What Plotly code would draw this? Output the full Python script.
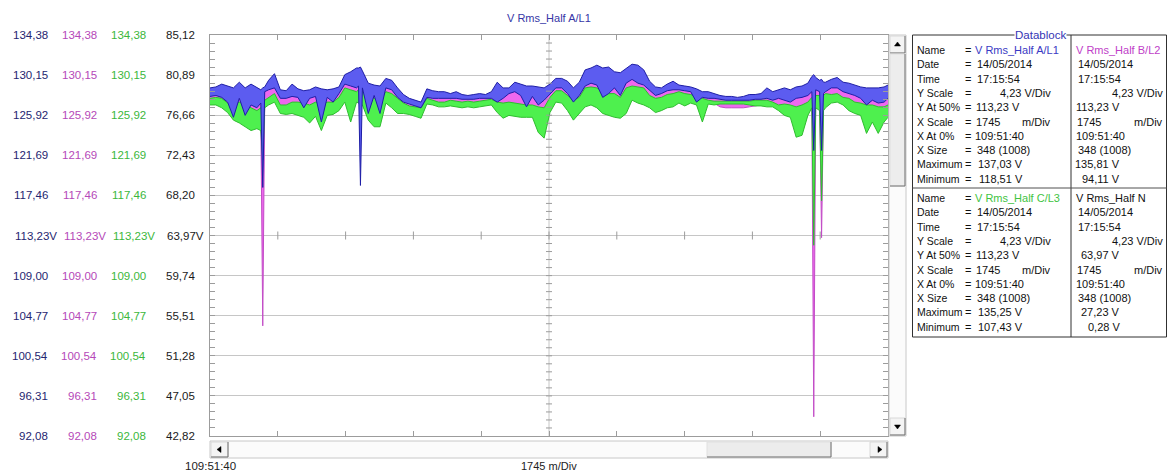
import plotly.graph_objects as go

# ---- record: sample numbers (348 samples on screen) and min/max envelopes (V) ----
sample = [0, 3, 6, 9, 12, 15, 18, 21, 24, 26, 27, 28, 30, 33, 36, 39, 42, 45, 48, 51,
          54, 57, 60, 63, 66, 69, 72, 75, 76, 77, 78, 81, 84, 87, 90, 93, 96, 99, 102, 105,
          108, 111, 114, 117, 120, 123, 126, 129, 132, 135, 138, 141, 144, 147, 150, 153, 156, 159, 162, 165,
          168, 171, 174, 177, 180, 183, 186, 189, 192, 195, 198, 201, 204, 207, 210, 213, 216, 219, 222, 225,
          228, 231, 234, 237, 240, 243, 246, 249, 252, 255, 258, 261, 264, 267, 270, 273, 276, 279, 282, 285,
          288, 291, 294, 297, 300, 303, 306, 308, 309, 310, 312, 313, 314, 315, 318, 321, 324, 327, 330, 333,
          336, 339, 342, 345, 347]

a_max = [128.8, 128.9, 129.2, 129.0, 128.8, 129.4, 128.8, 129.2, 128.8, 128.6, 128.8, 128.9, 129.6, 130.3, 128.6, 128.5, 129.2, 128.7, 128.5, 128.6,
         128.9, 128.7, 128.6, 128.7, 128.9, 130.2, 130.5, 130.9, 130.9, 131.0, 130.6, 129.3, 129.1, 129.0, 129.8, 129.6, 128.8, 128.1, 127.7, 127.5,
         127.3, 128.7, 128.5, 128.4, 128.4, 128.2, 128.4, 128.1, 128.0, 128.1, 128.2, 128.1, 128.4, 129.4, 128.8, 128.8, 129.4, 129.2, 129.0, 129.0,
         128.9, 128.8, 129.2, 129.8, 129.8, 129.5, 128.8, 129.4, 130.7, 130.9, 131.2, 130.9, 131.0, 130.5, 130.4, 130.9, 131.3, 131.2, 130.7, 129.5,
         128.9, 128.8, 129.2, 129.5, 129.1, 129.0, 128.9, 128.7, 128.4, 128.4, 128.2, 128.0, 127.9, 127.9, 127.8, 127.9, 128.1, 128.1, 128.2, 128.8,
         128.4, 128.6, 128.8, 128.6, 128.9, 129.0, 129.3, 130.0, 130.2, 129.9, 129.6, 129.7, 129.4, 129.4, 129.7, 129.9, 129.4, 129.3, 129.1, 128.9,
         128.8, 128.8, 128.8, 128.9, 129.1]
a_min = [127.9, 128.0, 127.8, 127.3, 125.7, 127.7, 125.9, 127.0, 126.7, 127.2, 118.3, 128.4, 128.6, 128.8, 127.7, 127.7, 127.9, 127.8, 126.7, 127.7,
         127.9, 125.2, 127.8, 127.3, 128.2, 129.2, 129.0, 128.8, 129.0, 118.51, 128.8, 126.1, 128.0, 126.1, 128.8, 128.6, 127.8, 127.3, 127.1, 126.9,
         126.7, 127.8, 127.7, 127.7, 127.7, 127.7, 127.7, 127.6, 127.6, 127.6, 127.7, 127.7, 127.7, 127.3, 127.7, 128.2, 128.4, 128.0, 126.8, 127.9,
         127.0, 127.5, 128.1, 128.8, 128.8, 128.2, 127.3, 128.0, 129.0, 129.3, 129.1, 127.8, 128.2, 128.8, 128.0, 129.3, 129.7, 129.3, 129.1, 128.5,
         128.0, 128.2, 128.5, 128.6, 128.6, 128.5, 128.4, 127.3, 127.8, 127.7, 127.7, 127.6, 127.5, 127.5, 127.5, 127.5, 127.5, 127.6, 127.6, 127.7,
         127.5, 127.7, 127.5, 127.3, 127.7, 127.8, 128.0, 128.4, 122.2, 128.6, 128.4, 122.2, 128.2, 128.4, 128.8, 128.8, 128.4, 128.2, 128.0, 127.7,
         127.0, 127.5, 127.2, 127.3, 127.7]

b_max = [128.2, 128.4, 128.1, 127.7, 127.6, 128.0, 127.5, 127.4, 127.2, 127.5, 127.5, 128.6, 128.9, 129.1, 128.0, 128.0, 128.2, 128.1, 128.0, 128.0,
         128.2, 128.0, 128.1, 128.0, 128.6, 129.5, 129.3, 129.4, 129.4, 129.4, 129.2, 128.8, 128.5, 128.4, 129.1, 128.9, 128.1, 127.6, 127.4, 127.2,
         127.0, 128.1, 128.0, 128.0, 128.0, 128.0, 128.0, 127.9, 127.9, 127.9, 128.0, 128.0, 128.0, 128.0, 128.0, 128.6, 128.8, 128.5, 128.2, 128.2,
         128.0, 127.9, 128.5, 129.1, 129.1, 128.6, 128.0, 128.4, 129.3, 129.6, 129.4, 129.0, 129.0, 129.1, 128.6, 129.6, 130.0, 129.6, 129.4, 128.8,
         128.4, 128.6, 128.8, 128.9, 128.9, 128.8, 128.7, 128.2, 128.1, 128.0, 128.0, 127.8, 127.8, 127.8, 127.7, 127.8, 127.8, 127.9, 127.9, 128.0,
         127.8, 128.0, 127.9, 127.8, 128.0, 128.1, 128.4, 128.8, 128.8, 128.9, 128.7, 128.7, 128.6, 128.7, 129.1, 129.1, 128.7, 128.6, 128.4, 128.0,
         127.9, 127.9, 127.8, 127.8, 128.0]
b_min = [127.4, 127.4, 127.2, 126.8, 126.2, 126.4, 126.0, 125.6, 125.6, 125.6, 103.7, 127.1, 127.4, 127.7, 126.6, 126.6, 126.8, 126.7, 126.4, 126.1,
         126.6, 125.8, 126.7, 126.7, 127.1, 128.0, 127.0, 127.8, 127.8, 127.5, 127.6, 126.8, 126.2, 126.1, 127.8, 127.5, 127.0, 126.7, 126.4, 126.3,
         126.1, 127.4, 127.3, 127.1, 127.1, 127.2, 127.1, 127.0, 127.1, 127.0, 127.1, 127.2, 127.3, 126.8, 126.4, 126.7, 126.6, 126.4, 126.3, 126.3,
         125.6, 125.4, 127.1, 127.9, 127.8, 127.3, 126.4, 127.0, 127.8, 127.9, 127.7, 127.3, 127.1, 127.0, 126.8, 127.5, 128.2, 128.0, 127.9, 127.4,
         127.0, 127.2, 127.4, 127.5, 127.8, 127.6, 127.7, 127.5, 126.7, 127.3, 127.2, 126.8, 126.7, 126.7, 126.7, 126.7, 126.8, 126.9, 127.0, 127.1,
         127.0, 126.7, 126.4, 126.3, 125.4, 125.6, 126.7, 127.2, 94.11, 127.3, 127.2, 113.0, 127.2, 127.5, 127.7, 127.8, 127.4, 127.1, 126.8, 126.6,
         125.6, 126.1, 125.6, 126.0, 126.4]

c_max = [127.7, 127.8, 127.7, 127.2, 127.0, 127.3, 127.0, 126.7, 126.4, 126.7, 126.4, 127.5, 127.8, 128.2, 127.0, 127.0, 127.3, 127.3, 127.2, 127.0,
         127.3, 127.0, 127.3, 127.3, 127.8, 128.8, 128.6, 128.4, 128.6, 128.4, 128.4, 128.0, 127.7, 127.5, 128.4, 128.2, 127.7, 127.2, 126.9, 126.8,
         126.7, 127.7, 127.5, 127.3, 127.3, 127.5, 127.4, 127.3, 127.4, 127.3, 127.4, 127.5, 127.6, 127.3, 127.2, 127.3, 127.2, 127.1, 127.0, 127.0,
         126.8, 126.7, 127.8, 128.5, 128.5, 128.0, 127.5, 127.8, 128.8, 128.9, 128.8, 128.4, 128.2, 128.2, 127.8, 128.8, 129.0, 128.9, 128.8, 128.0,
         127.7, 127.8, 128.1, 128.2, 128.4, 128.2, 128.1, 127.9, 127.7, 127.5, 127.4, 127.4, 127.4, 127.4, 127.4, 127.4, 127.4, 127.5, 127.5, 127.5,
         127.3, 127.0, 127.1, 127.0, 126.8, 127.0, 127.3, 127.8, 127.8, 128.0, 128.0, 128.0, 128.0, 128.2, 128.1, 128.2, 127.8, 127.7, 127.3, 127.2,
         127.0, 127.0, 126.8, 126.8, 127.0]
c_min = [127.0, 127.0, 126.7, 126.2, 125.4, 125.1, 124.7, 124.3, 124.5, 124.3, 121.2, 126.7, 127.0, 127.3, 126.1, 126.0, 126.1, 125.9, 125.7, 125.1,
         125.8, 124.3, 125.9, 126.0, 126.4, 127.3, 125.2, 127.3, 127.2, 127.0, 127.0, 125.4, 124.7, 124.7, 127.2, 126.7, 126.1, 126.1, 126.0, 125.8,
         125.6, 127.1, 127.0, 126.8, 126.8, 126.9, 126.8, 126.7, 126.8, 126.7, 126.8, 126.9, 127.0, 126.2, 125.6, 125.9, 125.8, 125.7, 125.7, 125.7,
         124.1, 123.5, 126.2, 127.3, 127.2, 126.4, 125.4, 126.1, 126.8, 127.0, 126.7, 126.1, 125.9, 125.7, 125.6, 126.1, 127.5, 127.2, 127.0, 126.7,
         126.2, 126.4, 126.7, 126.8, 127.2, 126.9, 127.2, 127.0, 125.2, 127.1, 127.0, 127.1, 127.1, 127.1, 127.1, 127.1, 127.0, 126.9, 126.9, 126.8,
         126.8, 126.4, 125.9, 125.7, 123.6, 123.8, 125.9, 126.7, 112.2, 126.7, 126.4, 116.9, 126.4, 126.7, 127.2, 127.3, 127.0, 126.4, 126.1, 125.9,
         124.0, 125.2, 124.0, 125.2, 125.7]

for arr in (a_max, a_min, b_max, b_min, c_max, c_min):
    assert len(arr) == len(sample)

# ---- scale settings ----
n_samples = 348
y_center = 113.23          # Y at 50 %
y_per_div = 4.23           # V/Div
n_div = 10
y_bottom = y_center - n_div / 2 * y_per_div
y_top = y_center + n_div / 2 * y_per_div
x_last = n_samples - 1
x_per_div = x_last / n_div

# tick label columns (A/L1, B/L2, C/L3, N)
labels_abc = ["134,38", "130,15", "125,92", "121,69", "117,46", "113,23V",
              "109,00", "104,77", "100,54", "96,31", "92,08"]
labels_n = ["85,12", "80,89", "76,66", "72,43", "68,20", "63,97V",
            "59,74", "55,51", "51,28", "47,05", "42,82"]

# ---- page geometry (pixels) ----
W, H = 1168, 474
PL, PR, PT, PB = 210, 888, 35, 436


def xp(px):
    return (px - PL) / (PR - PL)


def yp(py):
    return (PB - py) / (PB - PT)


FONT = "Liberation Sans, Arial, sans-serif"
GRID = "#c6c6c6"
FRAME = "#9c9c9c"

series = [
    # name, max, min, line colour, fill colour
    ("B/L2", b_max, b_min, "#c24cc6", "#ee68ee"),
    ("C/L3", c_max, c_min, "#2fbd2f", "#4ef04e"),
    ("A/L1", a_max, a_min, "#1e1ea6", "#5c5cf0"),
]

fig = go.Figure()
for name, hi, lo, lc, fc in series:
    fig.add_trace(go.Scatter(x=sample, y=lo, mode="lines", line=dict(color=lc, width=1),
                             hoverinfo="skip", showlegend=False))
    fig.add_trace(go.Scatter(x=sample, y=hi, mode="lines", line=dict(color=lc, width=1),
                             fill="tonexty", fillcolor=fc, name=name, showlegend=False))

shapes = []
# centre cross-hair with small ticks
x_mid = x_last / 2
shapes.append(dict(type="line", xref="x", yref="paper", x0=x_mid, x1=x_mid, y0=0, y1=1,
                   line=dict(color=GRID, width=1), layer="below"))
for k in range(1, n_div):
    xv = k * x_per_div
    shapes.append(dict(type="line", xref="x", yref="y", ysizemode="pixel", yanchor=y_center,
                       x0=xv, x1=xv, y0=-4, y1=4, line=dict(color=FRAME, width=1)))
for k in range(1, n_div * 5):
    yv = y_bottom + k * y_per_div / 5
    shapes.append(dict(type="line", xref="x", yref="y", xsizemode="pixel", xanchor=x_mid,
                       x0=-3, x1=3, y0=yv, y1=yv, line=dict(color=FRAME, width=1)))


def rect(x0, y0, x1, y1, fill, line="#b8b8b8"):
    shapes.append(dict(type="rect", xref="paper", yref="paper", x0=xp(x0), x1=xp(x1),
                       y0=yp(y1), y1=yp(y0), fillcolor=fill, line=dict(color=line, width=1)))


def hline(x0, x1, y, color, width=1):
    shapes.append(dict(type="line", xref="paper", yref="paper", x0=xp(x0), x1=xp(x1),
                       y0=yp(y), y1=yp(y), line=dict(color=color, width=width)))


def vline(x, y0, y1, color, width=1):
    shapes.append(dict(type="line", xref="paper", yref="paper", x0=xp(x), x1=xp(x),
                       y0=yp(y0), y1=yp(y1), line=dict(color=color, width=width)))


def tri(points):
    path = "M " + " L ".join(f"{xp(a):.5f},{yp(b):.5f}" for a, b in points) + " Z"
    shapes.append(dict(type="path", xref="paper", yref="paper", path=path,
                       fillcolor="#000000", line=dict(color="#000000", width=0.5)))


def button(x0, y0, x1, y1):
    rect(x0, y0, x1, y1, "#f4f4f4", "#d8d8d8")
    hline(x0, x1, y1, "#707070")
    vline(x1, y0, y1, "#707070")


# horizontal scrollbar
rect(PL, 441, PR, 458, "#fbfbfb", "#c8c8c8")
button(PL + 1, 442, PL + 18, 457)
tri([(217, 449.5), (221, 446.5), (221, 452.5)])
rect(707, 442, 831, 457, "#ececec", "#e0e0e0")
hline(707, 831, 457, "#707070")
vline(831, 442, 457, "#707070")
button(PR - 18, 442, PR - 1, 457)
tri([(882, 449.5), (878, 446.5), (878, 452.5)])

# vertical scrollbar
rect(889, PT, 906, PB, "#fbfbfb", "#c8c8c8")
button(890, PT + 1, 905, PT + 18)
tri([(897.5, 42), (894.5, 46), (900.5, 46)])
rect(890, PT + 19, 905, 186, "#ededed", "#e0e0e0")
hline(890, 905, 186, "#707070")
vline(905, PT + 19, 186, "#707070")
button(890, PB - 18, 905, PB - 1)
tri([(897.5, 429), (894.5, 425), (900.5, 425)])

# datablock frame
DB_L, DB_R, DB_T, DB_B, DB_MID, DB_SEP = 912.5, 1166.5, 35, 337, 1071, 188
rect(DB_L, DB_T, DB_R, DB_B, "rgba(0,0,0,0)", "#303030")
vline(DB_MID, DB_T, DB_B, "#303030")
hline(DB_L, DB_R, DB_SEP, "#505050")

annotations = []


def text(s, x, y, color="#111111", anchor="left", size=11, bg=None):
    a = dict(text=s, xref="paper", yref="paper", x=xp(x), y=yp(y), xanchor=anchor,
             yanchor="middle", showarrow=False, font=dict(family=FONT, size=size, color=color))
    if bg:
        a["bgcolor"] = bg
        a["borderpad"] = 0
    annotations.append(a)


# value columns at the left of the plot
col_colours = ["#25256f", "#b548b8", "#3bb73b", "#1a1a1a"]
col_right = [50, 99, 148, 197]
for c, (colour, right) in enumerate(zip(col_colours, col_right)):
    labels = labels_n if c == 3 else labels_abc
    for k, lab in enumerate(labels):
        v = y_top - k * y_per_div
        shift = 9 if lab.endswith("V") else 0
        annotations.append(dict(text=lab, xref="paper", yref="paper", x=0,
                                y=(v - y_bottom) / (y_top - y_bottom),
                                xanchor="right", yanchor="middle", xshift=right - PL + shift,
                                showarrow=False, font=dict(family=FONT, size=11.5, color=colour)))

text("V Rms_Half A/L1", (PL + PR) / 2, 18, color="#3636a6", anchor="center", size=11)
text("109:51:40", PL, 466, anchor="center", size=11.5, color="#222222")
text("1745 m/Div", (PL + PR) / 2, 466, anchor="center", size=11, color="#222222")

# datablock contents
channels = ["V Rms_Half A/L1", "V Rms_Half B/L2", "V Rms_Half C/L3", "V Rms_Half N"]
channel_colours = ["#3a3ac4", "#c040c8", "#3fc43f", "#111111"]
rec_date = "14/05/2014"
rec_time = "17:15:54"
y_scale = "4,23 V/Div"
y_at_50 = ["113,23 V", "113,23 V", "113,23 V", "63,97 V"]
x_scale = "1745"
x_at_0 = "109:51:40"
x_size = "348 (1008)"
maximum = ["137,03 V", "135,81 V", "135,25 V", "27,23 V"]
minimum = ["118,51 V", "94,11 V", "107,43 V", "0,28 V"]
row_names = ["Name", "Date", "Time", "Y Scale", "Y At 50%", "X Scale",
             "X At 0%", "X Size", "Maximum", "Minimum"]

text("Datablock", 1040, DB_T, color="#3434b4", anchor="center", size=11.5, bg="#ffffff")

ROW_H = 14.3
for sec, top in enumerate([50, 198]):
    ch = [2 * sec, 2 * sec + 1]
    for r, rn in enumerate(row_names):
        y = top + r * ROW_H
        text(rn, 915, y, size=10.5)
        text("=", 963, y)
        for j, (left, vright, dright) in enumerate([(973, 1025, 1053), (1074, 1122, 1165)]):
            c = ch[j]
            if rn == "Name":
                text(channels[c], left, y, color=channel_colours[c])
            elif rn == "Date":
                text(rec_date, left + 2, y)
            elif rn == "Time":
                text(rec_time, left + 2, y)
            elif rn == "Y Scale":
                text(y_scale, dright, y, anchor="right")
            elif rn == "Y At 50%":
                text(y_at_50[c], vright - (3 if j == 0 else 0), y, anchor="right")
            elif rn == "X Scale":
                text(x_scale, left + 1, y)
                text("m/Div", dright, y, anchor="right")
            elif rn == "X At 0%":
                text(x_at_0, left, y)
            elif rn == "X Size":
                text(x_size, left + 2, y)
            elif rn == "Maximum":
                text(maximum[c], vright, y, anchor="right")
            else:
                text(minimum[c], vright, y, anchor="right")

fig.update_layout(
    width=W, height=H, autosize=False,
    margin=dict(l=PL, r=W - PR, t=PT, b=H - PB),
    paper_bgcolor="#ffffff", plot_bgcolor="#ffffff",
    showlegend=False,
    xaxis=dict(range=[0, x_last], tick0=0, dtick=x_per_div, showgrid=False, zeroline=False,
               showticklabels=False, ticks="inside", ticklen=5, tickcolor=FRAME,
               showline=True, linecolor=FRAME, linewidth=1, mirror="ticks", fixedrange=True),
    yaxis=dict(range=[y_bottom, y_top], tick0=y_bottom, dtick=y_per_div, showgrid=True,
               gridcolor=GRID, gridwidth=1, zeroline=False, showticklabels=False,
               ticks="inside", ticklen=5, tickcolor=FRAME, showline=True, linecolor=FRAME,
               linewidth=1, mirror="ticks", fixedrange=True,
               minor=dict(tick0=y_bottom, dtick=y_per_div / 5, ticks="inside", ticklen=5,
                          tickcolor=FRAME, showgrid=False)),
    shapes=shapes,
    annotations=annotations,
)

fig.write_html("out.html")
